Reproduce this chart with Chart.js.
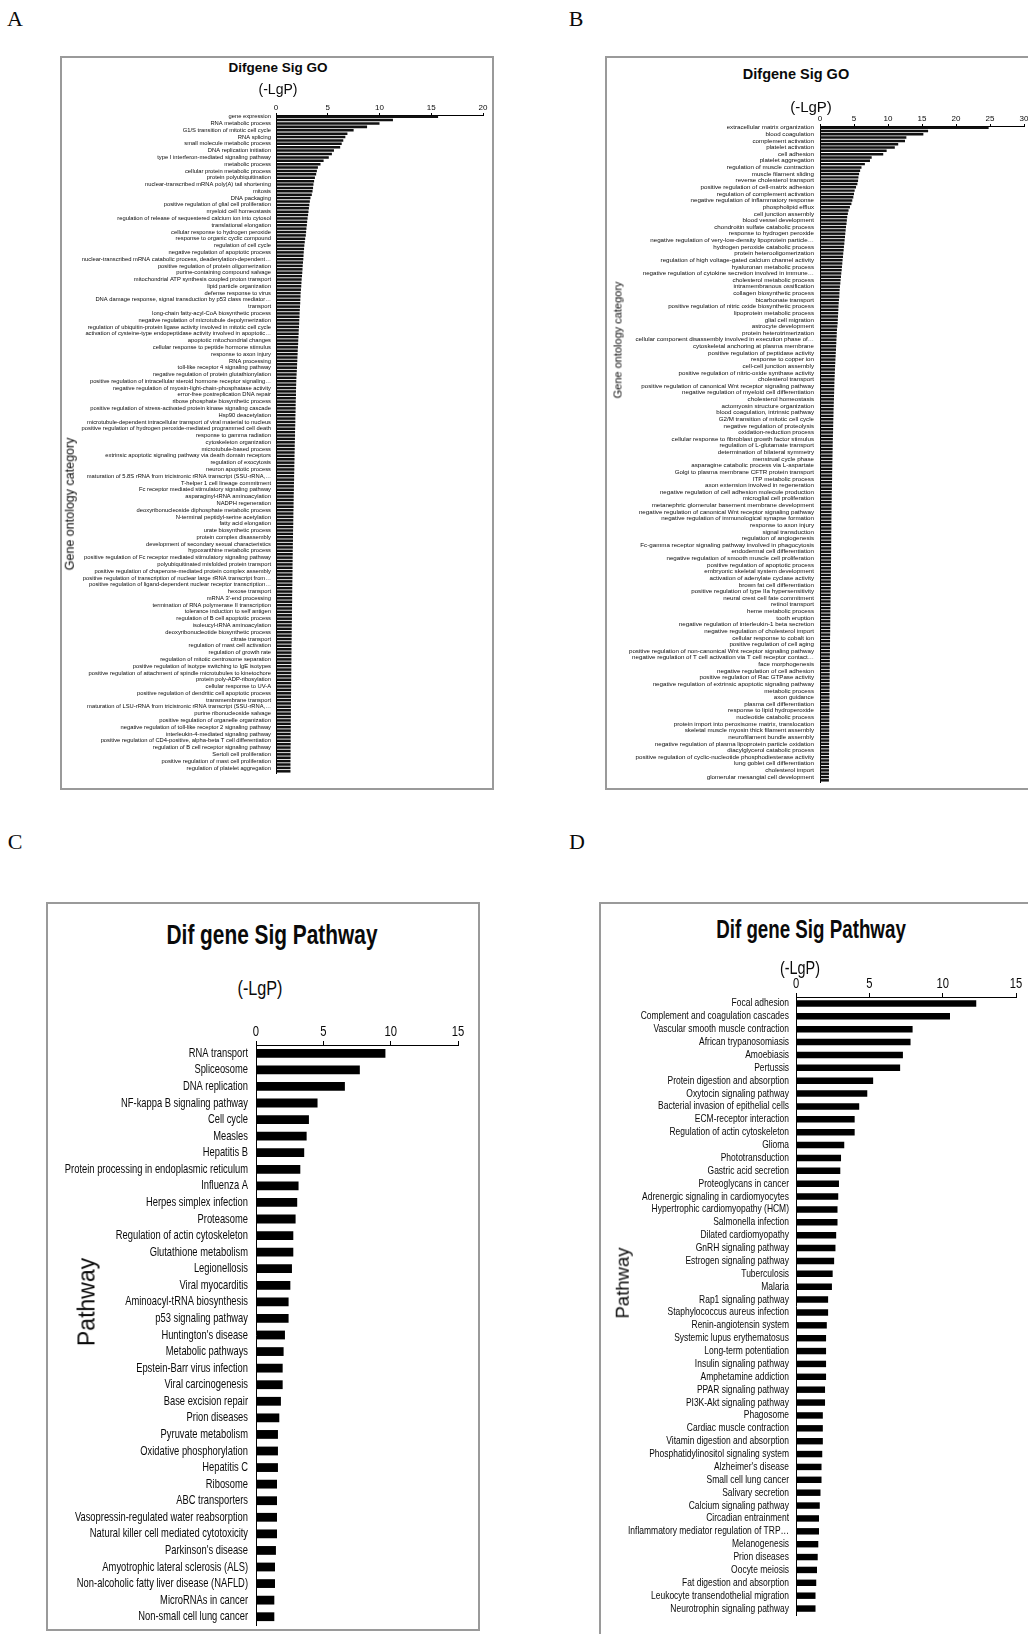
<!DOCTYPE html>
<html>
<head>
<meta charset="utf-8">
<script src="https://cdn.jsdelivr.net/npm/chart.js@4.4.0/dist/chart.umd.min.js"></script>
<style>
  html, body { margin: 0; padding: 0; background: #fff; }
  body { width: 1028px; height: 1634px; position: relative; overflow: hidden; font-family: "Liberation Sans", Arial, sans-serif; color: #0a0a0a; }
  .box { position: absolute; border: 2px solid #9a9a9a; box-sizing: border-box; }
  .txt { position: absolute; white-space: nowrap; line-height: 1; }
  .letter { position: absolute; font-family: "Liberation Serif", "Times New Roman", serif; font-size: 22px; line-height: 1; transform: translate(-50%, -50%); }
  canvas { position: absolute; }
</style>
</head>
<body>

<div class="letter" style="left:15px; top:19px;">A</div>
<div class="letter" style="left:576px; top:19px;">B</div>
<div class="letter" style="left:15px; top:842px;">C</div>
<div class="letter" style="left:577px; top:842px;">D</div>

<div class="box" style="left:60px; top:56px; width:434px; height:734px;"></div>
<div class="box" style="left:605px; top:56px; width:440px; height:734px;"></div>
<div class="box" style="left:46px; top:902px; width:434px; height:729px;"></div>
<div class="box" style="left:599px; top:902px; width:440px; height:740px;"></div>

<canvas id="chartA" width="430" height="690" style="left:62px; top:95px;"></canvas>
<canvas id="chartB" width="440" height="694" style="left:607px; top:100px;"></canvas>
<canvas id="chartC" width="428" height="645" style="left:49px; top:1000px;"></canvas>
<canvas id="chartD" width="440" height="658" style="left:602px; top:975px;"></canvas>

<div class="txt" style="left:278px; top:68px; font-weight:bold; font-size:13.5px; transform:translate(-50%,-50%);">Difgene Sig GO</div>
<div class="txt" style="left:278px; top:89px; font-size:14px; transform:translate(-50%,-50%);">(-LgP)</div>
<div class="txt" style="left:70px; top:504px; font-size:12.5px; transform:translate(-50%,-50%) rotate(-90deg);">Gene ontology category</div>

<div class="txt" style="left:796px; top:74px; font-weight:bold; font-size:14.5px; transform:translate(-50%,-50%);">Difgene Sig GO</div>
<div class="txt" style="left:811px; top:106px; font-size:15px; transform:translate(-50%,-50%);">(-LgP)</div>
<div class="txt" style="left:618px; top:340px; font-size:11px; transform:translate(-50%,-50%) rotate(-90deg);">Gene ontology category</div>

<div class="txt" style="left:272px; top:935px; font-weight:bold; font-size:28px; transform:translate(-50%,-50%) scaleX(0.745);">Dif gene Sig Pathway</div>
<div class="txt" style="left:260px; top:988px; font-size:20px; transform:translate(-50%,-50%) scaleX(0.81);">(-LgP)</div>
<div class="txt" style="left:87px; top:1302px; font-size:23px; transform:translate(-50%,-50%) rotate(-90deg);">Pathway</div>

<div class="txt" style="left:811px; top:929px; font-weight:bold; font-size:25px; transform:translate(-50%,-50%) scaleX(0.75);">Dif gene Sig Pathway</div>
<div class="txt" style="left:800px; top:968px; font-size:18px; transform:translate(-50%,-50%) scaleX(0.8);">(-LgP)</div>
<div class="txt" style="left:623px; top:1283px; font-size:18.5px; transform:translate(-50%,-50%) rotate(-90deg);">Pathway</div>

<script>
// ---- data ----
// A and B: Excel showed only every other category name, so each named term
// below is followed by one unnamed bar (kept as '' in the category list).

// A: GO terms (named ones), -lg(P) for every bar
const goTermsA = [
  'gene expression', 'RNA metabolic process', 'G1/S transition of mitotic cell cycle', 'RNA splicing',
  'small molecule metabolic process', 'DNA replication initiation', 'type I interferon-mediated signaling pathway',
  'metabolic process', 'cellular protein metabolic process', 'protein polyubiquitination',
  'nuclear-transcribed mRNA poly(A) tail shortening', 'mitosis', 'DNA packaging',
  'positive regulation of glial cell proliferation', 'myeloid cell homeostasis',
  'regulation of release of sequestered calcium ion into cytosol', 'translational elongation',
  'cellular response to hydrogen peroxide', 'response to organic cyclic compound', 'regulation of cell cycle',
  'negative regulation of apoptotic process', 'nuclear-transcribed mRNA catabolic process, deadenylation-dependent…',
  'positive regulation of protein oligomerization', 'purine-containing compound salvage',
  'mitochondrial ATP synthesis coupled proton transport', 'lipid particle organization', 'defense response to virus',
  'DNA damage response, signal transduction by p53 class mediator…', 'transport',
  'long-chain fatty-acyl-CoA biosynthetic process', 'negative regulation of microtubule depolymerization',
  'regulation of ubiquitin-protein ligase activity involved in mitotic cell cycle',
  'activation of cysteine-type endopeptidase activity involved in apoptotic…', 'apoptotic mitochondrial changes',
  'cellular response to peptide hormone stimulus', 'response to axon injury', 'RNA processing',
  'toll-like receptor 4 signaling pathway', 'negative regulation of protein glutathionylation',
  'positive regulation of intracellular steroid hormone receptor signaling…',
  'negative regulation of myosin-light-chain-phosphatase activity', 'error-free postreplication DNA repair',
  'ribose phosphate biosynthetic process', 'positive regulation of stress-activated protein kinase signaling cascade',
  'Hsp90 deacetylation', 'microtubule-dependent intracellular transport of viral material to nucleus',
  'positive regulation of hydrogen peroxide-mediated programmed cell death', 'response to gamma radiation',
  'cytoskeleton organization', 'microtubule-based process', 'extrinsic apoptotic signaling pathway via death domain receptors',
  'regulation of exocytosis', 'neuron apoptotic process', 'maturation of 5.8S rRNA from tricistronic rRNA transcript (SSU-rRNA,…',
  'T-helper 1 cell lineage commitment', 'Fc receptor mediated stimulatory signaling pathway',
  'asparaginyl-tRNA aminoacylation', 'NADPH regeneration', 'deoxyribonucleoside diphosphate metabolic process',
  'N-terminal peptidyl-serine acetylation', 'fatty acid elongation', 'urate biosynthetic process',
  'protein complex disassembly', 'development of secondary sexual characteristics', 'hypoxanthine metabolic process',
  'positive regulation of Fc receptor mediated stimulatory signaling pathway', 'polyubiquitinated misfolded protein transport',
  'positive regulation of chaperone-mediated protein complex assembly',
  'positive regulation of transcription of nuclear large rRNA transcript from…',
  'positive regulation of ligand-dependent nuclear receptor transcription…', 'hexose transport', "mRNA 3'-end processing",
  'termination of RNA polymerase II transcription', 'tolerance induction to self antigen',
  'regulation of B cell apoptotic process', 'isoleucyl-tRNA aminoacylation', 'deoxyribonucleotide biosynthetic process',
  'citrate transport', 'regulation of mast cell activation', 'regulation of growth rate',
  'regulation of mitotic centrosome separation', 'positive regulation of isotype switching to IgE isotypes',
  'positive regulation of attachment of spindle microtubules to kinetochore', 'protein poly-ADP-ribosylation',
  'cellular response to UV-A', 'positive regulation of dendritic cell apoptotic process', 'transmembrane transport',
  'maturation of LSU-rRNA from tricistronic rRNA transcript (SSU-rRNA,…', 'purine ribonucleoside salvage',
  'positive regulation of organelle organization', 'negative regulation of toll-like receptor 2 signaling pathway',
  'interleukin-4-mediated signaling pathway', 'positive regulation of CD4-positive, alpha-beta T cell differentiation',
  'regulation of B cell receptor signaling pathway', 'Sertoli cell proliferation',
  'positive regulation of mast cell proliferation', 'regulation of platelet aggregation'
];
const goScoresA = [
  15.66, 11.3, 10.0, 8.8, 7.5, 6.9, 6.7, 6.5, 6.35, 6.2,
  5.6, 5.4, 5.1, 4.6, 4.3, 4.05, 3.95, 3.88, 3.76, 3.68,
  3.62, 3.58, 3.53, 3.46, 3.33, 3.27, 3.22, 3.18, 3.14, 3.1,
  3.05, 3.01, 2.98, 2.94, 2.91, 2.88, 2.82, 2.78, 2.74, 2.71,
  2.68, 2.66, 2.64, 2.61, 2.58, 2.56, 2.54, 2.51, 2.48, 2.46,
  2.44, 2.41, 2.38, 2.37, 2.35, 2.34, 2.32, 2.3, 2.28, 2.27,
  2.25, 2.24, 2.22, 2.2, 2.19, 2.17, 2.15, 2.14, 2.12, 2.1,
  2.09, 2.07, 2.06, 2.04, 2.03, 2.01, 1.99, 1.97, 1.96, 1.95,
  1.94, 1.93, 1.93, 1.92, 1.91, 1.9, 1.9, 1.89, 1.88, 1.87,
  1.87, 1.86, 1.85, 1.84, 1.84, 1.83, 1.82, 1.81, 1.81, 1.8,
  1.79, 1.79, 1.78, 1.77, 1.77, 1.76, 1.75, 1.75, 1.74, 1.73,
  1.73, 1.72, 1.71, 1.71, 1.7, 1.7, 1.69, 1.68, 1.68, 1.67,
  1.67, 1.66, 1.65, 1.65, 1.64, 1.64, 1.63, 1.63, 1.62, 1.62,
  1.61, 1.61, 1.6, 1.6, 1.6, 1.59, 1.59, 1.58, 1.58, 1.57,
  1.57, 1.56, 1.56, 1.56, 1.55, 1.55, 1.54, 1.54, 1.54, 1.53,
  1.53, 1.52, 1.52, 1.52, 1.51, 1.51, 1.5, 1.5, 1.5, 1.49,
  1.49, 1.49, 1.48, 1.48, 1.48, 1.47, 1.47, 1.47, 1.46, 1.46,
  1.46, 1.45, 1.45, 1.45, 1.44, 1.44, 1.44, 1.44, 1.43, 1.43,
  1.43, 1.43, 1.42, 1.42, 1.42, 1.42, 1.41, 1.41, 1.41, 1.41,
  1.4, 1.4, 1.4, 1.4
];
const axisTicksA = [0, 5, 10, 15, 20];

// B: GO terms (named ones), -lg(P) for every bar
const goTermsB = [
  'extracellular matrix organization', 'blood coagulation', 'complement activation', 'platelet activation',
  'cell adhesion', 'platelet aggregation', 'regulation of muscle contraction', 'muscle filament sliding',
  'reverse cholesterol transport', 'positive regulation of cell-matrix adhesion', 'regulation of complement activation',
  'negative regulation of inflammatory response', 'phospholipid efflux', 'cell junction assembly',
  'blood vessel development', 'chondroitin sulfate catabolic process', 'response to hydrogen peroxide',
  'negative regulation of very-low-density lipoprotein particle…', 'hydrogen peroxide catabolic process',
  'protein heterooligomerization', 'regulation of high voltage-gated calcium channel activity',
  'hyaluronan metabolic process', 'negative regulation of cytokine secretion involved in immune…',
  'cholesterol metabolic process', 'intramembranous ossification', 'collagen biosynthetic process',
  'bicarbonate transport', 'positive regulation of nitric oxide biosynthetic process', 'lipoprotein metabolic process',
  'glial cell migration', 'astrocyte development', 'protein heterotrimerization',
  'cellular component disassembly involved in execution phase of…', 'cytoskeletal anchoring at plasma membrane',
  'positive regulation of peptidase activity', 'response to copper ion', 'cell-cell junction assembly',
  'positive regulation of nitric-oxide synthase activity', 'cholesterol transport',
  'positive regulation of canonical Wnt receptor signaling pathway', 'negative regulation of myeloid cell differentiation',
  'cholesterol homeostasis', 'actomyosin structure organization', 'blood coagulation, intrinsic pathway',
  'G2/M transition of mitotic cell cycle', 'negative regulation of proteolysis', 'oxidation-reduction process',
  'cellular response to fibroblast growth factor stimulus', 'regulation of L-glutamate transport',
  'determination of bilateral symmetry', 'menstrual cycle phase', 'asparagine catabolic process via L-aspartate',
  'Golgi to plasma membrane CFTR protein transport', 'ITP metabolic process', 'axon extension involved in regeneration',
  'negative regulation of cell adhesion molecule production', 'microglial cell proliferation',
  'metanephric glomerular basement membrane development', 'negative regulation of canonical Wnt receptor signaling pathway',
  'negative regulation of immunological synapse formation', 'response to axon injury', 'signal transduction',
  'regulation of angiogenesis', 'Fc-gamma receptor signaling pathway involved in phagocytosis',
  'endodermal cell differentiation', 'negative regulation of smooth muscle cell proliferation',
  'positive regulation of apoptotic process', 'embryonic skeletal system development',
  'activation of adenylate cyclase activity', 'brown fat cell differentiation',
  'positive regulation of type IIa hypersensitivity', 'neural crest cell fate commitment', 'retinol transport',
  'heme metabolic process', 'tooth eruption', 'negative regulation of interleukin-1 beta secretion',
  'negative regulation of cholesterol import', 'cellular response to cobalt ion', 'positive regulation of cell aging',
  'positive regulation of non-canonical Wnt receptor signaling pathway',
  'negative regulation of T cell activation via T cell receptor contact…', 'face morphogenesis',
  'negative regulation of cell adhesion', 'positive regulation of Rac GTPase activity',
  'negative regulation of extrinsic apoptotic signaling pathway', 'metabolic process', 'axon guidance',
  'plasma cell differentiation', 'response to lipid hydroperoxide', 'nucleotide catabolic process',
  'protein import into peroxisome matrix, translocation', 'skeletal muscle myosin thick filament assembly',
  'neurofilament bundle assembly', 'negative regulation of plasma lipoprotein particle oxidation',
  'diacylglycerol catabolic process', 'positive regulation of cyclic-nucleotide phosphodiesterase activity',
  'lung goblet cell differentiation', 'cholesterol import', 'glomerular mesangial cell development'
];
const goScoresB = [
  24.8, 15.9, 15.2, 12.7, 12.5, 11.5, 11.0, 9.8, 9.3, 7.6,
  7.35, 6.6, 6.1, 5.9, 5.75, 5.65, 5.6, 5.5, 5.3, 5.1,
  5.0, 4.9, 4.75, 4.62, 4.4, 4.2, 4.1, 4.0, 3.95, 3.9,
  3.82, 3.77, 3.72, 3.68, 3.62, 3.58, 3.52, 3.48, 3.42, 3.38,
  3.32, 3.28, 3.23, 3.19, 3.13, 3.09, 3.03, 2.99, 2.93, 2.89,
  2.86, 2.84, 2.79, 2.75, 2.72, 2.7, 2.67, 2.65, 2.62, 2.6,
  2.55, 2.5, 2.47, 2.45, 2.42, 2.4, 2.37, 2.35, 2.32, 2.3,
  2.27, 2.25, 2.22, 2.2, 2.18, 2.16, 2.14, 2.12, 2.11, 2.09,
  2.08, 2.06, 2.05, 2.03, 2.02, 2.0, 1.99, 1.98, 1.96, 1.95,
  1.94, 1.93, 1.92, 1.9, 1.89, 1.88, 1.87, 1.86, 1.85, 1.84,
  1.83, 1.82, 1.81, 1.8, 1.79, 1.78, 1.78, 1.77, 1.76, 1.75,
  1.74, 1.73, 1.73, 1.72, 1.71, 1.7, 1.7, 1.69, 1.68, 1.68,
  1.67, 1.67, 1.66, 1.66, 1.65, 1.65, 1.64, 1.64, 1.63, 1.63,
  1.63, 1.62, 1.62, 1.61, 1.61, 1.6, 1.6, 1.59, 1.59, 1.58,
  1.57, 1.57, 1.56, 1.55, 1.55, 1.54, 1.53, 1.53, 1.52, 1.51,
  1.51, 1.5, 1.5, 1.49, 1.48, 1.48, 1.47, 1.47, 1.46, 1.46,
  1.45, 1.45, 1.44, 1.44, 1.43, 1.43, 1.42, 1.42, 1.41, 1.41,
  1.4, 1.4, 1.4, 1.39, 1.39, 1.38, 1.38, 1.38, 1.37, 1.37,
  1.36, 1.36, 1.36, 1.35, 1.35, 1.35, 1.34, 1.34, 1.34, 1.33,
  1.33, 1.33, 1.33, 1.32, 1.32, 1.32, 1.31, 1.31
];
const axisTicksB = [0, 5, 10, 15, 20, 25, 30];

// C: KEGG pathways, -lg(P)
const pathwaysC = [
  'RNA transport', 'Spliceosome', 'DNA replication', 'NF-kappa B signaling pathway', 'Cell cycle', 'Measles',
  'Hepatitis B', 'Protein processing in endoplasmic reticulum', 'Influenza A', 'Herpes simplex infection',
  'Proteasome', 'Regulation of actin cytoskeleton', 'Glutathione metabolism', 'Legionellosis', 'Viral myocarditis',
  'Aminoacyl-tRNA biosynthesis', 'p53 signaling pathway', "Huntington's disease", 'Metabolic pathways',
  'Epstein-Barr virus infection', 'Viral carcinogenesis', 'Base excision repair', 'Prion diseases',
  'Pyruvate metabolism', 'Oxidative phosphorylation', 'Hepatitis C', 'Ribosome', 'ABC transporters',
  'Vasopressin-regulated water reabsorption', 'Natural killer cell mediated cytotoxicity', "Parkinson's disease",
  'Amyotrophic lateral sclerosis (ALS)', 'Non-alcoholic fatty liver disease (NAFLD)', 'MicroRNAs in cancer',
  'Non-small cell lung cancer'
];
const pathScoresC = [
  9.61, 7.71, 6.6, 4.57, 3.93, 3.76, 3.58, 3.29, 3.16, 3.06,
  2.94, 2.77, 2.77, 2.67, 2.55, 2.42, 2.42, 2.15, 2.05, 1.98,
  1.98, 1.85, 1.73, 1.63, 1.63, 1.63, 1.56, 1.56, 1.56, 1.56,
  1.48, 1.41, 1.41, 1.36, 1.36
];
const axisTicksC = [0, 5, 10, 15];

// D: KEGG pathways, -lg(P)
const pathwaysD = [
  'Focal adhesion', 'Complement and coagulation cascades', 'Vascular smooth muscle contraction',
  'African trypanosomiasis', 'Amoebiasis', 'Pertussis', 'Protein digestion and absorption',
  'Oxytocin signaling pathway', 'Bacterial invasion of epithelial cells', 'ECM-receptor interaction',
  'Regulation of actin cytoskeleton', 'Glioma', 'Phototransduction', 'Gastric acid secretion',
  'Proteoglycans in cancer', 'Adrenergic signaling in cardiomyocytes', 'Hypertrophic cardiomyopathy (HCM)',
  'Salmonella infection', 'Dilated cardiomyopathy', 'GnRH signaling pathway', 'Estrogen signaling pathway',
  'Tuberculosis', 'Malaria', 'Rap1 signaling pathway', 'Staphylococcus aureus infection', 'Renin-angiotensin system',
  'Systemic lupus erythematosus', 'Long-term potentiation', 'Insulin signaling pathway', 'Amphetamine addiction',
  'PPAR signaling pathway', 'PI3K-Akt signaling pathway', 'Phagosome', 'Cardiac muscle contraction',
  'Vitamin digestion and absorption', 'Phosphatidylinositol signaling system', "Alzheimer's disease",
  'Small cell lung cancer', 'Salivary secretion', 'Calcium signaling pathway', 'Circadian entrainment',
  'Inflammatory mediator regulation of TRP…', 'Melanogenesis', 'Prion diseases', 'Oocyte meiosis',
  'Fat digestion and absorption', 'Leukocyte transendothelial migration', 'Neurotrophin signaling pathway'
];
const pathScoresD = [
  12.29, 10.5, 7.95, 7.81, 7.29, 7.1, 5.26, 4.86, 4.31, 4.0,
  4.0, 3.29, 3.07, 3.02, 2.93, 2.88, 2.83, 2.83, 2.74, 2.69,
  2.6, 2.5, 2.45, 2.19, 2.19, 2.1, 2.05, 2.05, 2.05, 2.05,
  1.98, 1.98, 1.83, 1.83, 1.83, 1.79, 1.74, 1.74, 1.67, 1.62,
  1.57, 1.57, 1.52, 1.48, 1.43, 1.38, 1.33, 1.33
];
const axisTicksD = [0, 5, 10, 15];

// ---- drawing ----
const SANS = '"Liberation Sans", Arial, sans-serif';

// named term, then the unnamed bar that Excel skipped
const withHidden = terms => terms.flatMap(t => [t, '']);

// the pathway panels use a squeezed (narrow) face; no narrow font is installed,
// so the tick labels are drawn here at the scale positions with a horizontal squeeze
const squeezedTicks = {
  id: 'squeezedTicks',
  afterDraw(chart, args, o) {
    if (!o.on) return;
    const ctx = chart.ctx;
    const xs = chart.scales.x, ys = chart.scales.y;
    ctx.save();
    ctx.fillStyle = '#0a0a0a';

    ctx.font = o.yFont.size + 'px ' + o.yFont.family;
    ctx.textAlign = 'right';
    ctx.textBaseline = 'middle';
    ys.ticks.forEach((t, i) => {
      ctx.save();
      ctx.translate(ys.right - o.yPad, ys.getPixelForTick(i));
      ctx.scale(o.yScaleX, 1);
      ctx.fillText(chart.data.labels[i], 0, 0);
      ctx.restore();
    });

    ctx.font = o.xFont.size + 'px ' + o.xFont.family;
    ctx.textAlign = 'center';
    ctx.textBaseline = 'bottom';
    xs.ticks.forEach(t => {
      ctx.save();
      ctx.translate(xs.getPixelForValue(t.value), xs.bottom - o.tickLen - o.xPad);
      ctx.scale(o.xScaleX, 1);
      ctx.fillText(String(t.value), 0, 0);
      ctx.restore();
    });
    ctx.restore();
  }
};

function drawPanel(id, labels, values, ticks, s) {
  const own = !s.squeeze;
  return new Chart(document.getElementById(id), {
    type: 'bar',
    data: {
      labels: labels,
      datasets: [{
        data: values,
        backgroundColor: s.barColor,
        borderWidth: 0,
        barPercentage: s.barPct,
        categoryPercentage: 1
      }]
    },
    plugins: [squeezedTicks],
    options: {
      indexAxis: 'y',
      responsive: false,
      animation: false,
      layout: { padding: { left: 0, top: 0, right: s.padRight, bottom: s.padBottom } },
      plugins: {
        legend: { display: false },
        tooltip: { enabled: false },
        squeezedTicks: {
          on: !own, tickLen: s.tickLen, xPad: s.xPad, yPad: s.yPad,
          xFont: s.xFont, yFont: s.yFont, xScaleX: s.xScaleX || 1, yScaleX: s.yScaleX || 1
        }
      },
      scales: {
        x: {
          position: 'top',
          min: ticks[0],
          max: ticks[ticks.length - 1],
          afterFit: sc => { sc.height = s.xHeight; },
          ticks: { display: own, stepSize: ticks[1] - ticks[0], color: '#0a0a0a', font: s.xFont, padding: s.xPad },
          grid: { display: true, drawOnChartArea: false, drawTicks: true, tickLength: s.tickLen, color: '#000', lineWidth: 1 },
          border: { display: true, color: '#000', width: 1 }
        },
        y: {
          afterFit: sc => { sc.width = s.yWidth; },
          ticks: { display: own, autoSkip: false, color: '#0a0a0a', font: s.yFont, padding: s.yPad },
          grid: { display: false, drawTicks: false },
          border: { display: true, color: '#000', width: 1 }
        }
      }
    }
  });
}

drawPanel('chartA', withHidden(goTermsA), goScoresA, axisTicksA, {
  barColor: '#111', barPct: 0.74, padRight: 9, padBottom: 12,
  xHeight: 20, yWidth: 214, tickLen: 2, xPad: 0, yPad: 5,
  xFont: { family: SANS, size: 8 }, yFont: { family: SANS, size: 5.8 }
});

drawPanel('chartB', withHidden(goTermsB), goScoresB, axisTicksB, {
  barColor: '#111', barPct: 0.74, padRight: 23, padBottom: 12,
  xHeight: 26, yWidth: 213, tickLen: 2, xPad: 0, yPad: 6,
  xFont: { family: SANS, size: 8 }, yFont: { family: SANS, size: 6.2 }
});

drawPanel('chartC', pathwaysC, pathScoresC, axisTicksC, {
  squeeze: true, barColor: '#000', barPct: 0.53, padRight: 19, padBottom: 20,
  xHeight: 45, yWidth: 207, tickLen: 4, xPad: 2, yPad: 8,
  xFont: { family: SANS, size: 15 }, yFont: { family: SANS, size: 13 },
  xScaleX: 0.75, yScaleX: 0.72
});

drawPanel('chartD', pathwaysD, pathScoresD, axisTicksD, {
  squeeze: true, barColor: '#000', barPct: 0.5, padRight: 26, padBottom: 18,
  xHeight: 22, yWidth: 194, tickLen: 4, xPad: 2, yPad: 7,
  xFont: { family: SANS, size: 14 }, yFont: { family: SANS, size: 11 },
  xScaleX: 0.8, yScaleX: 0.77
});
</script>
</body>
</html>
